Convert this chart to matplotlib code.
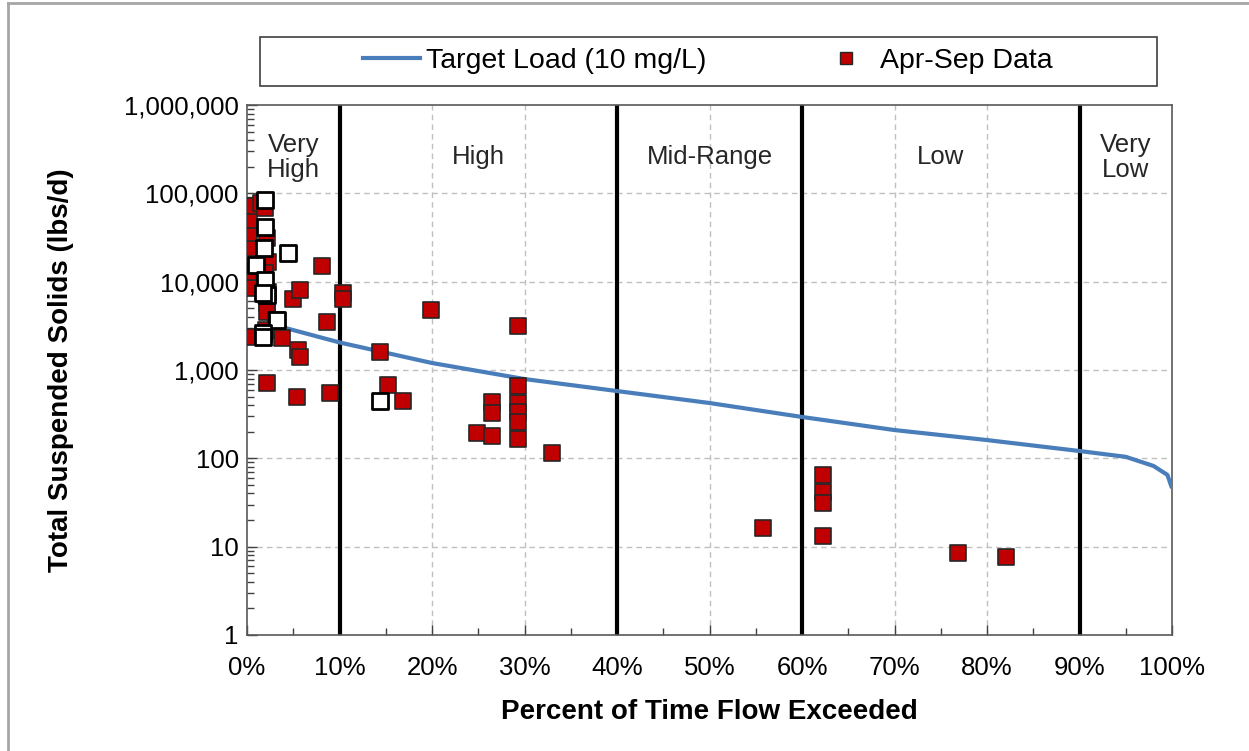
import matplotlib
matplotlib.use("Agg")
import matplotlib.pyplot as plt
from matplotlib.ticker import FixedLocator, FuncFormatter, LogLocator, NullFormatter
from matplotlib.lines import Line2D
from matplotlib.patches import Rectangle

plt.rcParams['font.family'] = ['Liberation Sans', 'DejaVu Sans']

# Target load duration curve (10 mg/L)
curve_pct = [0.3, 0.9, 1.2, 2.3, 4.1, 10, 20, 30, 40, 50, 60, 70, 80, 90, 95, 98, 99.5, 100]
curve_load = [16700, 9900, 6200, 3700, 3000, 2050, 1200, 790, 578, 423, 294, 209, 161, 121, 104, 82, 65, 46]

# Apr-Sep observations (filled)
aprsep_pct = [0.2, 0.2, 0.1, 0.2, 0.2, 0.2, 0.4, 1.5, 1.9, 2.2, 2.3, 1.9, 2.3, 2.2, 2.2,
              3.1, 5.0, 5.7, 8.1, 10.4, 10.4, 8.6, 3.8, 2.0, 5.5, 5.7, 2.2, 5.4, 9.0,
              19.9, 29.3, 14.4, 15.2, 16.9, 26.5, 26.5, 29.3, 29.3, 29.3, 29.3, 24.9,
              26.5, 29.3, 33.0, 55.8, 62.3, 62.3, 62.3, 62.3, 76.9, 82.1]
aprsep_load = [2360, 8480, 12900, 24000, 35600, 49900, 71900, 77800, 68200, 31200, 16700,
               12500, 7640, 5730, 4540, 3680, 6370, 8050, 15000, 7440, 6370, 3490, 2300,
               2840, 1680, 1400, 713, 494, 549, 4780, 3150, 1600, 676, 446, 434, 326,
               659, 423, 334, 258, 194, 179, 166, 115, 16.3, 64.7, 41.6, 31.2, 13.2,
               8.5, 7.6]

# Other observations (open squares)
other_pct = [1.9, 1.9, 1.8, 4.4, 1.0, 1.9, 2.2, 1.7, 3.2, 1.7, 1.7, 14.4]
other_load = [84100, 41600, 24000, 21100, 15400, 10400, 7060, 7440, 3680, 2620, 2360, 446]

x_ticks = [0, 10, 20, 30, 40, 50, 60, 70, 80, 90, 100]
y_ticks = [1, 10, 100, 1000, 10000, 100000, 1000000]
zone_bounds = [10, 40, 60, 90]
zone_names = ["Very\nHigh", "High", "Mid-Range", "Low", "Very\nLow"]
zone_centers = [5, 25, 50, 75, 95]

fig = plt.figure(figsize=(12.49, 7.51), dpi=100)
ax = fig.add_axes([247/1249, 1-635/751, (1172-247)/1249, (635-105)/751])

ax.set_yscale('log')
ax.set_xlim(0, 100)
ax.set_ylim(1, 1e6)

# grid
for xv in x_ticks[1:-1]:
    if xv not in zone_bounds:
        ax.axvline(xv, color='#c0c0c0', lw=1.0, ls=(0, (4, 3)), zorder=1)
for yv in y_ticks[1:-1]:
    ax.axhline(yv, color='#c0c0c0', lw=1.0, ls=(0, (4, 3)), zorder=1)

for xb in zone_bounds:
    ax.axvline(xb, color='black', lw=3, zorder=2)

ax.plot(curve_pct, curve_load, color='#4a7ebb', lw=3, zorder=3,
        solid_capstyle='butt')

ax.scatter(aprsep_pct, aprsep_load, marker='s', s=125, facecolor='#c00000',
           edgecolor='#262626', linewidths=1.2, zorder=4)
ax.scatter(other_pct, other_load, marker='s', s=125, facecolor='white',
           edgecolor='black', linewidths=2.0, zorder=5)

for name, xc in zip(zone_names, zone_centers):
    ax.text(xc, 10**5.41, name, ha='center', va='center', fontsize=18.5,
            color='#262626', linespacing=1.05, zorder=6)

ax.xaxis.set_major_locator(FixedLocator(x_ticks))
ax.xaxis.set_minor_locator(FixedLocator(list(range(5, 100, 10))))
ax.xaxis.set_major_formatter(FuncFormatter(lambda v, p: f"{int(v)}%"))
ax.yaxis.set_major_locator(FixedLocator(y_ticks))
ax.yaxis.set_minor_locator(LogLocator(base=10, subs=range(2, 10), numticks=20))
ax.yaxis.set_minor_formatter(NullFormatter())
ax.yaxis.set_major_formatter(FuncFormatter(lambda v, p: f"{int(round(v)):,}"))

ax.tick_params(axis='both', which='both', direction='in', color='#404040')
ax.tick_params(axis='both', which='major', length=7, width=1, labelsize=18.5)
ax.tick_params(axis='x', which='major', pad=15)
ax.tick_params(axis='y', which='major', pad=6)
ax.tick_params(axis='both', which='minor', length=5, width=1)
for s in ax.spines.values():
    s.set_color('#595959')
    s.set_linewidth(1.2)

ax.set_xlabel('Percent of Time Flow Exceeded', fontsize=20, fontweight='bold', labelpad=14)
ax.set_ylabel('Total Suspended Solids (lbs/d)', fontsize=20, fontweight='bold', labelpad=36)

# legend box
fig.patches.append(Rectangle((260/1249, 1-86/751), (1157-260)/1249, (86-37)/751,
                             transform=fig.transFigure, fill=False,
                             edgecolor='#404040', lw=1.2))
handles = [Line2D([0], [0], color='#4a7ebb', lw=3),
           Line2D([0], [0], marker='s', ls='none', markersize=9,
                  markerfacecolor='#c00000', markeredgecolor='#262626')]
fig.legend(handles, ['Target Load (10 mg/L)', 'Apr-Sep Data'], loc='center',
           bbox_to_anchor=(708/1249, 1-61/751), ncol=2, frameon=False,
           fontsize=20.5, handlelength=2.0, handletextpad=0.2, columnspacing=3.9)

# outer chart-area border (visible on left and top)
fig.add_artist(Line2D([8/1249, 8/1249], [0, 1-3/751], transform=fig.transFigure,
                      color='#a6a6a6', lw=2))
fig.add_artist(Line2D([8/1249, 1], [1-3/751, 1-3/751], transform=fig.transFigure,
                      color='#a6a6a6', lw=2))

fig.savefig('out.png', dpi=100)
